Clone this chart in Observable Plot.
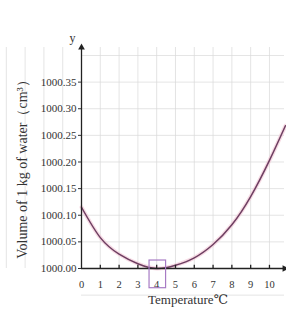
<!DOCTYPE html>
<html>
<head>
<meta charset="utf-8">
<script src="https://cdn.jsdelivr.net/npm/d3@7"></script>
<script src="https://cdn.jsdelivr.net/npm/@observablehq/plot@0.6"></script>
<style>
  html, body { margin: 0; padding: 0; background: #fff; }
  svg { display: block; }
</style>
</head>
<body>
<div id="chart"></div>
<script>
const temps   = [0, 1, 2, 3, 4, 5, 6, 7, 8, 9, 10, 10.85];
const volumes = [1000.115, 1000.058, 1000.027, 1000.009, 1000.000, 1000.006, 1000.020, 1000.045, 1000.082, 1000.135, 1000.203, 1000.268];
const xTicks  = [0, 1, 2, 3, 4, 5, 6, 7, 8, 9, 10];
const yTicks  = [1000.00, 1000.05, 1000.10, 1000.15, 1000.20, 1000.25, 1000.30, 1000.35];
const highlightTemp = [4];
const xLabel = "Temperature℃";
const yLabel = "Volume of 1 kg of water（cm³）";

const data = temps.map((t, i) => ({t, v: volumes[i]}));
const xMax = 10.8, yMin = 1000, yMax = 1000.415;
const font = "Liberation Serif, DejaVu Serif, serif";

const chart = Plot.plot({
  width: 286,
  height: 311,
  marginLeft: 81,
  marginRight: 2,
  marginTop: 47,
  marginBottom: 43,
  style: {fontFamily: font, background: "#fff", color: "#333"},
  x: {domain: [0, xMax], axis: null},
  y: {domain: [yMin, yMax], axis: null},
  marks: [
    Plot.gridX(d3.range(-4, 11, 1), {stroke: "#d8d8d8", strokeOpacity: 0.7}),
    Plot.gridY(d3.range(999.95, 1000.45, 0.05), {stroke: "#d8d8d8", strokeOpacity: 0.7}),
    Plot.line(data, {x: "t", y: "v", curve: "natural", stroke: "#f2c4d4", strokeWidth: 4, strokeOpacity: 0.6}),
    Plot.line(data, {x: "t", y: "v", curve: "natural", stroke: "#6e3f62", strokeWidth: 1.5}),
    Plot.ruleY([yMin], {x1: 0, x2: xMax, stroke: "#222", strokeWidth: 1.3}),
    Plot.ruleX([0], {y1: yMin, y2: yMax, stroke: "#222", strokeWidth: 1.3}),
    Plot.dot([{x: xMax, y: yMin}], {x: "x", y: "y", symbol: "triangle", rotate: 90, r: 2.5, fill: "#222"}),
    Plot.dot([{x: 0, y: yMax}], {x: "x", y: "y", symbol: "triangle", r: 2.5, fill: "#222"}),
    Plot.ruleX(xTicks.slice(1), {x: d => d, y1: yMin, y2: yMin + 0.006, stroke: "#222", strokeWidth: 1.3}),
    Plot.axisX({ticks: xTicks, tickSize: 0, tickPadding: 12, fontSize: 10.5, tickFormat: d => String(d)}),
    Plot.axisY({ticks: yTicks, tickSize: 3, tickPadding: 2, fontSize: 11, tickFormat: d => d.toFixed(2)}),
    Plot.rect(highlightTemp, {x1: d => d - 0.38, x2: d => d + 0.5, y1: yMin - 0.037, y2: yMin + 0.015, stroke: "#a77bc4", strokeWidth: 1.2, fill: "none"}),
    Plot.text(["y"], {x: 0, y: yMax, dx: -9, dy: -9, fontSize: 12, fill: "#333"}),
    Plot.text([yLabel], {frameAnchor: "left", textAnchor: "middle", dx: -59, dy: 8, rotate: -90, fontSize: 14, fill: "#333"}),
    Plot.text([xLabel], {frameAnchor: "bottom", dx: 5, dy: 35, fontSize: 13, fill: "#333"})
  ]
});
document.getElementById("chart").appendChild(chart);
</script>
</body>
</html>
